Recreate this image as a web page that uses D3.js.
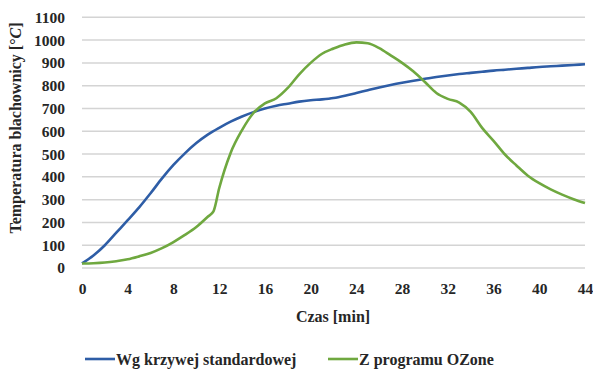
<!DOCTYPE html>
<html><head><meta charset="utf-8">
<script src="https://cdn.jsdelivr.net/npm/d3@7"></script>
</head>
<body style="margin:0;padding:0;background:#fff;">
<svg id="c" width="593" height="370" font-family="Liberation Serif"></svg>
<script>
const xTicks = [0,4,8,12,16,20,24,28,32,36,40,44];
const yTicks = [0,100,200,300,400,500,600,700,800,900,1000,1100];
const timeStd = [0,1,2,3,4,5,6,7,8,9,10,11,12,13,14,15,16,17,18,19,20,21,22,23,24,25,26,27,28,29,30,31,32,33,34,35,36,37,38,39,40,41,42,43,44];
const tempStd = [20,55,100,155,210,266,328,393,452,503,548,585,615,642,665,684,700,712,721,730,736,740,746,756,768,780,792,803,813,822,830,838,845,851,856,861,866,870,874,878,882,885,888,891,894];
const timeOz = [0,1,2,3,4,5,6,7,8,9,10,11,11.5,12,13,14,15,16,17,18,19,20,21,22,23,24,25,26,27,28,29,30,31,32,33,34,35,36,37,38,39,40,41,42,43,44];
const tempOz = [20,21,24,30,38,51,66,87,114,145,180,225,248,350,505,605,680,722,745,790,850,900,940,963,981,990,986,965,933,900,862,816,768,742,726,685,615,558,498,450,405,372,345,322,302,285];
const seriesNames = ["Wg krzywej standardowej","Z programu OZone"];
const seriesColors = ["#2e5da6","#6fa83f"];
const FONT = "Liberation Serif";
const TXT = "#262626";

const svg = d3.select("#c");
const x = d3.scaleLinear().domain([0,44]).range([82,585]);
const y = d3.scaleLinear().domain([0,1100]).range([268,17.3]);

function serif(sel, size){
  return sel.attr("font-family",FONT).style("font-family",FONT)
    .attr("font-size",size).attr("font-weight","bold").attr("fill",TXT);
}

svg.append("g").selectAll("line").data(yTicks).join("line")
  .attr("x1",x(0)).attr("x2",x(44)).attr("y1",d=>y(d)).attr("y2",d=>y(d))
  .attr("stroke","#d4d4d4").attr("stroke-width",1.5);

const ya = svg.append("g").attr("transform",`translate(${x(0)},0)`)
  .call(d3.axisLeft(y).tickValues(yTicks).tickFormat(d3.format("d")).tickSize(0).tickPadding(17));
ya.attr("font-family",FONT);
ya.select(".domain").remove();
serif(ya.selectAll("text"), 15.5);

const xa = svg.append("g").attr("transform",`translate(0,${y(0)})`)
  .call(d3.axisBottom(x).tickValues(xTicks).tickFormat(d3.format("d")).tickSize(0).tickPadding(15));
xa.attr("font-family",FONT);
xa.select(".domain").remove();
serif(xa.selectAll("text"), 15.5);

const line = d3.line().x(d=>x(d[0])).y(d=>y(d[1])).curve(d3.curveMonotoneX);
const s1 = timeStd.map((t,i)=>[t,tempStd[i]]);
const s2 = timeOz.map((t,i)=>[t,tempOz[i]]);
svg.append("path").datum(s1).attr("d",line).attr("fill","none").attr("stroke",seriesColors[0]).attr("stroke-width",2.6).attr("stroke-linejoin","round");
svg.append("path").datum(s2).attr("d",line).attr("fill","none").attr("stroke",seriesColors[1]).attr("stroke-width",2.6).attr("stroke-linejoin","round");

serif(svg.append("text").attr("x",333).attr("y",322).attr("text-anchor","middle"), 16).text("Czas [min]");
const yt = serif(svg.append("text").attr("transform","translate(21,128) rotate(-90)").attr("text-anchor","middle"), 16);
yt.append("tspan").text("Temperatura blachownicy [°");
yt.append("tspan").attr("font-style","italic").text("C");
yt.append("tspan").text("]");

const legX = [85,328];
seriesNames.forEach((n,i)=>{
  svg.append("line").attr("x1",legX[i]).attr("x2",legX[i]+30).attr("y1",359).attr("y2",359)
    .attr("stroke",seriesColors[i]).attr("stroke-width",2.6);
  serif(svg.append("text").attr("x",legX[i]+31).attr("y",365), 16).text(n);
});
</script></body></html>
